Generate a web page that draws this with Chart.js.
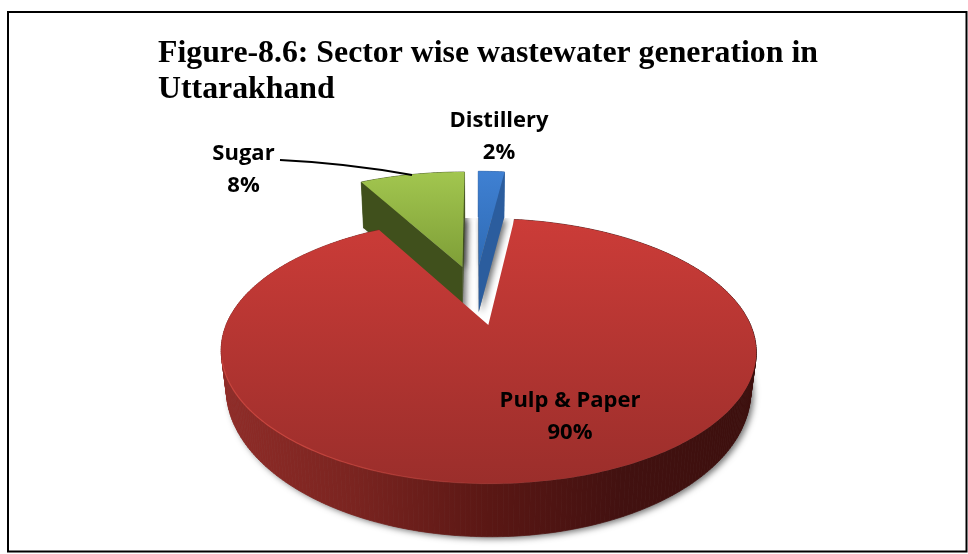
<!DOCTYPE html>
<html><head><meta charset="utf-8">
<style>html,body{margin:0;padding:0;background:#fff}canvas{display:block}</style>
<script src="https://cdn.jsdelivr.net/npm/chart.js@4"></script>
</head><body><canvas id="c" width="968" height="554"></canvas>
<script>
const categories = ["Distillery", "Pulp & Paper", "Sugar"];
const shares = [2, 90, 8];
const titleLines = ["Figure-8.6: Sector wise wastewater generation in", "Uttarakhand"];

const labelSpots = [{x:499,y:120,gap:32},{x:570,y:400,gap:32},{x:243.5,y:153,gap:32}];
const leader = [[280,160],[345,163],[412,175]];
const view = {cx:488.5, cy:301, sx:252.5, sy:118, k:0.19, depth:34.3, pow:1.69, shrink:0.02};
const looks = [
  {explode:0.315,reach:1.075,xfit:0.975,ofit:0.7,nudge:-13,deep:46,top:["#3f80d2","#2d69b2"], wall:["#2b5d9e","#2b5d9e"], y0:172, y1:275},
  {explode:0.2,reach:1,xfit:1,ofit:1,nudge:-10,deep:0,top:["#cc3c38","#9b2e2b"], wall:["#902c28","#7a2420","#5a1714","#421110","#3c0f0d"], y0:217, y1:483},
  {explode:0.315,reach:1.075,xfit:0.975,ofit:0.7,nudge:-13,deep:46,top:["#a2c64f","#7e9e37"], wall:["#40501c","#40501c"], y0:172, y1:268}
];
function proj(u,v,z,L){
  const w=1-view.k*v, s=1-view.shrink*z;
  const drop=L.deep?L.deep:view.depth/Math.pow(w,view.pow);
  return [view.cx+L.nudge+view.sx*u/w*s, view.cy+view.sy*v/w+z*drop];
}
function outline(ctx,pts){ctx.beginPath();pts.forEach((p,i)=>i?ctx.lineTo(p[0],p[1]):ctx.moveTo(p[0],p[1]));ctx.closePath();}
function sliceGeom(arc,L){
  const a0=arc.startAngle,a1=arc.endAngle,m=(a0+a1)/2;
  const ou=L.explode*L.ofit*Math.cos(m),ov=L.explode*Math.sin(m);
  const rim=[];const n=Math.max(6,Math.ceil((a1-a0)*60));
  for(let i=0;i<=n;i++){const a=a0+(a1-a0)*i/n;rim.push([ou+L.reach*L.xfit*Math.cos(a),ov+L.reach*Math.sin(a)]);}
  return {ou,ov,rim};
}
const pie3d={id:'pie3d',
  beforeDatasetDraw(chart,args){
    const ctx=chart.ctx,arcs=args.meta.data;
    const order=[0,2,1];
    order.forEach(i=>{
      const L=looks[i],g=sliceGeom(arcs[i],L),rim=g.rim,P=(u,v,z)=>proj(u,v,z,L);
      const top=[P(g.ou,g.ov,0),...rim.map(p=>P(p[0],p[1],0))];
      const bot=[P(g.ou,g.ov,1),...rim.map(p=>P(p[0],p[1],1))];
      const sil=[...top,...bot.slice().reverse()];
      ctx.save();
      if(i!==1){ctx.beginPath();ctx.rect(0,218,968,336);ctx.clip();}
      ctx.shadowColor='rgba(0,0,0,0.55)';ctx.shadowBlur=6;ctx.shadowOffsetX=3;ctx.shadowOffsetY=2;
      ctx.fillStyle='#888';
      outline(ctx,bot);ctx.fill();
      if(i!==1){outline(ctx,top);ctx.fill();}
      ctx.restore();
      const xs=sil.map(p=>p[0]),x0=Math.min(...xs),x1=Math.max(...xs);
      const wg=ctx.createLinearGradient(x0,0,x1,0);
      L.wall.forEach((c,j)=>wg.addColorStop(j/(L.wall.length-1),c));
      ctx.fillStyle=wg;
      for(let j=0;j<rim.length-1;j++){
        const a=rim[j],b=rim[j+1];
        outline(ctx,[P(a[0],a[1],0),P(b[0],b[1],0),P(b[0],b[1],1),P(a[0],a[1],1)]);
        ctx.fill();ctx.strokeStyle=wg;ctx.lineWidth=0.7;ctx.stroke();
      }
      if(i!==1){
        [rim[0],rim[rim.length-1]].forEach(e=>{
          outline(ctx,[P(g.ou,g.ov,0),P(e[0],e[1],0),P(e[0],e[1],1),P(g.ou,g.ov,1)]);
          ctx.fillStyle=L.wall[0];ctx.fill();
        });
      }
      const tg=ctx.createLinearGradient(0,L.y0,0,L.y1);
      tg.addColorStop(0,L.top[0]);tg.addColorStop(1,L.top[1]);
      outline(ctx,top);ctx.fillStyle=tg;ctx.fill();
      if(i===1){
        const front=rim.filter(p=>p[1]>0.45&&p[0]<0.3).map(p=>P(p[0],p[1],0));
        ctx.beginPath();front.forEach((p,j)=>j?ctx.lineTo(p[0],p[1]):ctx.moveTo(p[0],p[1]));
        const hg=ctx.createLinearGradient(300,0,540,0);
        hg.addColorStop(0,'rgba(214,74,66,0.75)');hg.addColorStop(1,'rgba(214,74,66,0)');
        ctx.strokeStyle=hg;ctx.lineWidth=1.2;ctx.stroke();
      }
    });
    return false;
  },
  afterDraw(chart){
    const ctx=chart.ctx;
    ctx.save();
    ctx.strokeStyle='#000';ctx.lineWidth=2;
    ctx.strokeRect(8,12,958.5,539.5);
    ctx.lineWidth=1.8;ctx.beginPath();ctx.moveTo(leader[0][0],leader[0][1]);ctx.quadraticCurveTo(leader[1][0],leader[1][1],leader[2][0],leader[2][1]);ctx.stroke();
    ctx.fillStyle='#000';ctx.font='bold 22px "Open Sans"';ctx.textAlign='center';ctx.textBaseline='alphabetic';
    categories.forEach((c,i)=>{
      const s=labelSpots[i];
      ctx.fillText(c,s.x,s.y+7);
      ctx.fillText(shares[i]+'%',s.x,s.y+7+s.gap);
    });
    ctx.restore();
  }
};
new Chart(document.getElementById('c'),{
  type:'pie',
  data:{labels:categories,datasets:[{data:shares,borderWidth:0}]},
  plugins:[pie3d],
  options:{
    responsive:false,animation:false,rotation:0,
    layout:{padding:{left:158,top:35.5}},
    plugins:{
      legend:{display:false},tooltip:{enabled:false},
      title:{display:true,text:titleLines,align:'start',color:'#000',padding:0,
        font:{family:'"Liberation Serif"',weight:'bold',size:31.8,lineHeight:1.132}}
    }
  }
});
</script></body></html>
